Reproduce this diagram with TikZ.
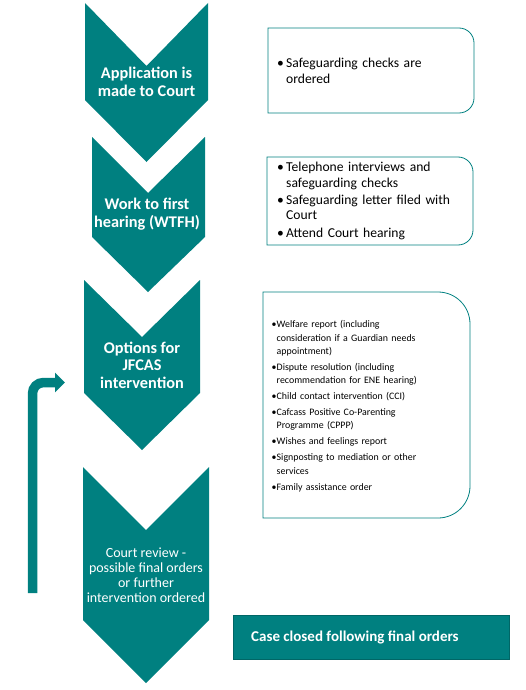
\documentclass[tikz,border=0pt]{standalone}
\usepackage{fontspec}
\setmainfont{Carlito}
\usetikzlibrary{arrows.meta}
\definecolor{cteal}{RGB}{0,128,128}
\newcommand{\bitem}[2][9pt]{\par\hangindent=#1\hangafter=1\noindent\hbox to #1{\textbullet\hfil}#2\par}
\begin{document}
\begin{tikzpicture}[x=1pt,y=-1pt,
  chev/.style={fill=cteal,draw=none},
  chevtext/.style={text=white,font=\bfseries\fontsize{16.3}{17.5}\selectfont,align=center,inner sep=0pt},
  chevplain/.style={text=white,font=\fontsize{14}{15}\selectfont,align=center,inner sep=0pt},
  infobox/.style={draw=cteal,line width=0.8pt},
  infotext/.style={anchor=north west,inner sep=0pt,align=left,text width=200pt,font=\fontsize{13.6}{15.3}\selectfont},
  smalltext/.style={anchor=north west,inner sep=0pt,align=left,text width=200pt,font=\fontsize{9.9}{13.3}\selectfont},
  closedbox/.style={fill=cteal,draw=cteal!80!black,line width=0.6pt},
  closedtext/.style={anchor=west,inner sep=0pt,text=white,font=\bfseries\fontsize{15}{17}\selectfont},
  looparrow/.style={draw=cteal,line width=9.5pt,rounded corners=11pt,-{Triangle[length=10pt,width=19pt]}}
]
\useasboundingbox (0,0) rectangle (526,690);

% chevrons
\fill[chev] (85,3) -- (146.5,66) -- (208,3) -- (208,100) -- (146.5,162) -- (85,100) -- cycle;
\node[chevtext] (c1) at (146.5,82) {Application is\\made to Court};

\fill[chev] (92,137) -- (148,193) -- (205,137) -- (205,237) -- (148,292) -- (92,237) -- cycle;
\node[chevtext] (c2) at (147,214) {Work to first\\hearing (WTFH)};

\fill[chev] (84,280) -- (142,337) -- (200,280) -- (200,393) -- (142,450) -- (84,393) -- cycle;
\node[chevtext] (c3) at (142,365) {Options for\\JFCAS\\intervention};

\fill[chev] (83,467) -- (146,530) -- (209,467) -- (209,620) -- (146,683) -- (83,620) -- cycle;
\node[chevplain] (c4) at (146,575) {Court review -\\possible final orders\\or further\\intervention ordered};

% info boxes
\draw[infobox] (268,113) -- (268,28) -- (459,28) arc[start angle=-90,end angle=0,radius=15] -- (474,98) arc[start angle=0,end angle=90,radius=15] -- cycle;
\node[infotext] (t1) at (277,52.5) {\bitem{Safeguarding checks are\newline ordered}};

\draw[infobox] (267,245) -- (267,157) -- (458,157) arc[start angle=-90,end angle=0,radius=15] -- (473,230) arc[start angle=0,end angle=90,radius=15] -- cycle;
\node[infotext] (t2) at (277,154) {\setlength{\parskip}{2.2pt}%
\bitem{Telephone interviews and\newline safeguarding checks}
\bitem{Safeguarding letter filed with\newline Court}
\bitem{Attend Court hearing}};

\draw[infobox] (263,518) -- (263,292) -- (438,292) arc[start angle=-90,end angle=0,radius=32] -- (470,486) arc[start angle=0,end angle=90,radius=32] -- cycle;
\node[smalltext] (t3) at (271.5,311.5) {\setlength{\parskip}{2.7pt}%
\bitem[5pt]{Welfare report (including\newline consideration if a Guardian needs\newline appointment)}
\bitem[5pt]{Dispute resolution (including\newline recommendation for ENE hearing)}
\bitem[5pt]{Child contact intervention (CCI)}
\bitem[5pt]{Cafcass Positive Co-Parenting\newline Programme (CPPP)}
\bitem[5pt]{Wishes and feelings report}
\bitem[5pt]{Signposting to mediation or other\newline services}
\bitem[5pt]{Family assistance order}};

% case closed
\draw[closedbox] (233,615) rectangle (509,659);
\node[closedtext] (t4) at (251,637) {Case closed following final orders};

% loop arrow
\coordinate (loopA) at (32.5,593);
\coordinate (loopB) at (65,382.5);
\draw[looparrow] (loopA) |- (loopB);
\end{tikzpicture}
\end{document}
